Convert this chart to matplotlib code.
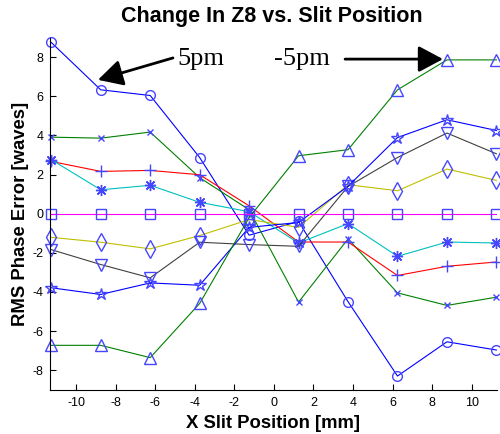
import matplotlib
matplotlib.use("Agg")
import matplotlib.pyplot as plt
from matplotlib.patches import ArrowStyle

x_pos = [-11.25, -8.75, -6.25, -3.75, -1.25, 1.25, 3.75, 6.25, 8.75, 11.25]

s_circle = [8.75, 6.33, 6.04, 2.87, -1.1, -0.4, -4.5, -8.3, -6.55, -6.97]
s_xmark = [3.91, 3.86, 4.17, 1.84, 0.2, -4.52, -1.29, -4.05, -4.69, -4.27]
s_plus = [2.67, 2.16, 2.21, 1.99, 0.4, -1.45, -1.45, -3.16, -2.69, -2.47]
s_aster = [2.76, 1.22, 1.45, 0.58, 0.1, -1.5, -0.51, -2.18, -1.45, -1.5]
s_square = [0, 0, 0, 0, 0, 0, 0, 0, 0, 0]
s_diamond = [-1.21, -1.46, -1.8, -1.12, -0.3, -0.7, 1.48, 1.17, 2.28, 1.7]
s_vtri = [-1.84, -2.6, -3.28, -1.46, -1.58, -1.67, 1.39, 2.87, 4.12, 3.06]
s_pent = [-3.79, -4.13, -3.54, -3.66, -0.7, -0.45, 1.4, 3.89, 4.8, 4.25]
s_tri = [-6.73, -6.73, -7.36, -4.59, -0.2, 2.96, 3.27, 6.33, 7.86, 7.86]

x_ticks = [-10, -8, -6, -4, -2, 0, 2, 4, 6, 8, 10]
y_ticks = [-8, -6, -4, -2, 0, 2, 4, 6, 8]

title = "Change In Z8 vs. Slit Position"
xlabel = "X Slit Position [mm]"
ylabel = "RMS Phase Error [waves]"

plt.rcParams['font.family'] = ['Liberation Sans', 'DejaVu Sans']
plt.rcParams['axes.unicode_minus'] = False

fig = plt.figure(figsize=(5.0, 4.34), dpi=100)
ax = fig.add_axes([0.1006, 0.102, 0.8942, 0.8114])

mk = '#4646ff'
series = [
    (s_circle, '#0000ff', 'o', 7),
    (s_xmark, '#008000', 'x', 5),
    (s_plus, '#ff0000', '+', 9),
    (s_aster, '#00bfbf', (8, 2, 0), 8),
    (s_diamond, '#bfbf00', 'd', 9),
    (s_vtri, '#404040', 'v', 8),
    (s_pent, '#0000ff', '*', 9),
    (s_tri, '#008000', '^', 8),
    (s_square, '#ff00ff', 's', 7),
]
for vals, lc, m, ms in series:
    ax.plot(x_pos, vals, color=lc, lw=0.8, marker=m, markersize=ms,
            markeredgecolor=mk, markerfacecolor='none', markeredgewidth=1.0,
            clip_on=False)

ax.set_xlim(-11.3, 11.3)
ax.set_ylim(-9, 9)
ax.set_xticks(x_ticks)
ax.set_yticks(y_ticks)
ax.tick_params(direction='in', length=4, width=0.8, labelsize=9, colors='black', pad=5)
ax.spines['top'].set_visible(False)
ax.spines['right'].set_visible(False)
ax.spines['left'].set_linewidth(0.8)
ax.spines['bottom'].set_linewidth(0.8)

fig.text(0.543, 0.961, title, ha='center', va='center', fontsize=15.5, fontweight='bold')
fig.text(0.545, 1 - 423 / 434, xlabel, ha='center', va='center', fontsize=13.3, fontweight='bold')
fig.text(0.041, 1 - 214 / 434, ylabel, ha='center', va='center', rotation=90,
         fontsize=13.3, fontweight='bold')

arr = ArrowStyle("-|>", head_length=0.75, head_width=0.4)
ax.annotate('', xy=(-8.89, 6.84), xytext=(-5.1, 7.96),
            arrowprops=dict(arrowstyle=arr, color='black', lw=2, mutation_scale=20,
                            shrinkA=0, shrinkB=0))
ax.annotate('', xy=(8.55, 7.9), xytext=(3.6, 7.9),
            arrowprops=dict(arrowstyle=arr, color='black', lw=2, mutation_scale=20,
                            shrinkA=0, shrinkB=0))
ax.text(-3.68, 7.9, '5pm', ha='center', va='center', fontsize=19,
        family=['Liberation Serif', 'DejaVu Serif'])
ax.text(1.43, 7.9, '-5pm', ha='center', va='center', fontsize=19,
        family=['Liberation Serif', 'DejaVu Serif'])

fig.savefig('out.png', dpi=100)
